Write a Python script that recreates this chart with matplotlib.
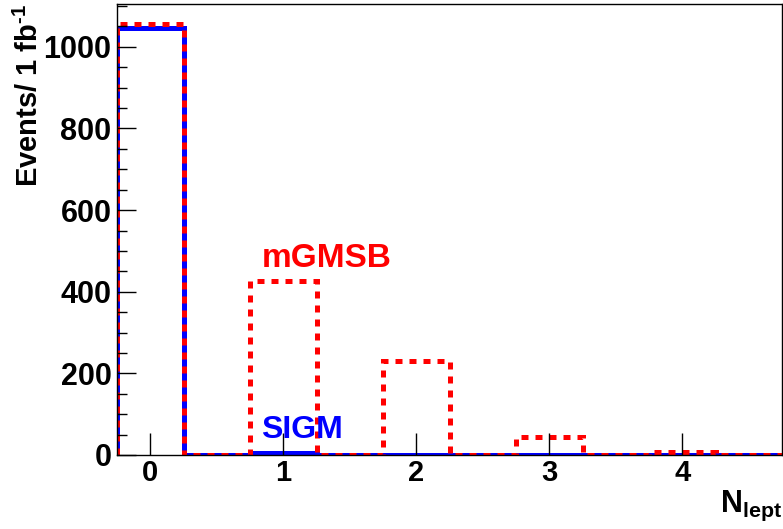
import numpy as np
import matplotlib.pyplot as plt

# N_lept histograms, bins of width 0.5 centred on 0, 0.5, 1, ...
edges = np.arange(-0.25, 5.0, 0.5)
sigm = [1047, 0, 4, 0, 1, 0, 0.5, 0, 0, 0]
mgmsb = [1056, 0, 426, 0, 230, 0, 44, 0, 8, 0]
xticks = [0, 1, 2, 3, 4]

plt.rcParams['font.family'] = ['Liberation Sans', 'DejaVu Sans']
plt.rcParams['font.weight'] = 'bold'
plt.rcParams['mathtext.fontset'] = 'custom'
plt.rcParams['mathtext.rm'] = 'Liberation Sans:bold'
plt.rcParams['mathtext.it'] = 'Liberation Sans:bold'
plt.rcParams['mathtext.bf'] = 'Liberation Sans:bold'

fig = plt.figure(figsize=(7.83, 5.29), dpi=100)
ax = fig.add_axes([117/783, 74/529, 665/783, 451/529])

ax.stairs(sigm, edges, color='#0000ff', lw=3.6, baseline=0)
ax.stairs(mgmsb, edges, color='#ff0000', lw=3.6, baseline=0,
          linestyle=(0, (1.4, 1.4)))

ax.text(0.835, 461, 'mGMSB', color='#ff0000', fontsize=24, fontweight='bold')
ax.text(0.835, 42, 'SIGM', color='#0000ff', fontsize=23, fontweight='bold')

ax.set_xlim(-0.25, 4.75)
ax.set_ylim(0, 1105)
ax.set_xticks(xticks)
ax.set_yticks(np.arange(0, 1001, 200))
ax.set_yticks(np.arange(0, 1101, 50), minor=True)
ax.tick_params(axis='y', which='major', direction='in', length=14, width=1,
               labelsize=22, pad=4)
ax.tick_params(axis='y', which='minor', direction='in', length=7, width=1)
ax.tick_params(axis='x', which='major', direction='in', length=16, width=1,
               labelsize=21, pad=3)
for s in ax.spines.values():
    s.set_linewidth(1)

ax.set_ylabel('Events/ 1 fb$^{\\text{-1}}$', fontsize=21, fontweight='bold',
              loc='top')
ax.yaxis.set_label_coords(-0.11, 1.0)
ax.set_xlabel('N$_{\\mathregular{lept}}$', fontsize=22, fontweight='bold',
              loc='right')
ax.xaxis.set_label_coords(1.0, -0.075)

fig.savefig('out.png', dpi=100)
